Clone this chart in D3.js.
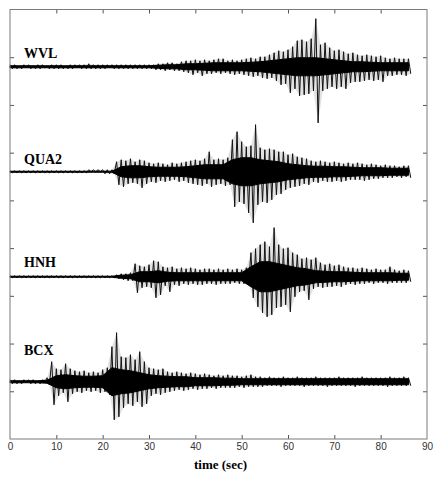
<!DOCTYPE html>
<html>
<head>
<meta charset="utf-8">
<script src="https://cdn.jsdelivr.net/npm/d3@7"></script>
<style>
body { margin: 0; background: #fff; }
</style>
</head>
<body>
<div id="chart"></div>
<script>
// stations, top to bottom, and where each trace sits on the y axis
var stations = ["WVL", "QUA2", "HNH", "BCX"];
var offsets = [7.8, 5.6, 3.4, 1.2];
var xTicks = [0, 10, 20, 30, 40, 50, 60, 70, 80, 90];
var yTicks = [1, 2, 3, 4, 5, 6, 7, 8];

// peak amplitude (counts) in each 1 s window, up and down, t = 0..86 s
var wvlHi = [2,2,1,2,2,1,2,2,1,2, 2,2,1,2,2,2,2,3,2,2, 2,2,2,2,2,2,2,2,2,2,
  2,2,3,3,4,4,3,5,6,6, 7,6,7,6,7,8,8,6,7,6, 7,8,9,8,10,10,12,14,16,15,
  17,20,26,27,25,28,48,22,24,19, 16,17,15,13,14,12,11,12,11,10, 11,9,8,9,8,8,8];
var wvlLo = [-2,-2,-2,-1,-2,-2,-2,-1,-2,-2, -2,-2,-2,-2,-1,-2,-2,-2,-2,-2, -2,-1,-2,-2,-2,-2,-2,-2,-2,-2,
  -2,-3,-3,-4,-3,-4,-4,-5,-6,-8, -6,-9,-7,-7,-6,-7,-6,-7,-8,-7, -8,-9,-10,-9,-11,-12,-11,-14,-18,-17,
  -26,-22,-29,-28,-27,-24,-56,-24,-22,-20, -22,-20,-22,-16,-15,-15,-14,-13,-14,-13, -15,-9,-9,-8,-8,-9,-7];

var quaHi = [1,1,1,1,1,1,1,1,1,1, 1,1,1,1,1,1,1,2,2,2, 2,2,2,10,12,11,13,10,12,11,
  9,8,9,8,7,9,8,9,10,11, 12,11,13,20,12,13,12,14,32,40, 30,25,26,47,24,22,23,22,20,20,
  17,18,15,14,13,11,10,11,10,9, 10,9,8,9,8,9,8,7,8,7, 6,7,6,6,5,6,6];
var quaLo = [-1,-1,-1,-1,-1,-1,-1,-1,-1,-1, -1,-1,-1,-1,-1,-1,-1,0,0,0, -2,-2,-2,-13,-15,-12,-11,-12,-16,-12,
  -10,-11,-9,-10,-9,-8,-10,-9,-11,-12, -13,-14,-12,-15,-13,-12,-14,-13,-35,-30, -32,-41,-51,-33,-30,-31,-28,-23,-22,-18,
  -16,-15,-14,-12,-13,-10,-11,-9,-10,-10, -9,-10,-9,-8,-8,-8,-9,-8,-7,-7, -6,-6,-6,-5,-6,-5,-6];

var hnhHi = [1,1,1,1,1,1,1,1,1,1, 1,1,1,1,1,1,1,1,1,1, 1,1,1,2,3,3,4,13,11,10,
  12,16,15,10,9,10,8,9,8,9, 8,7,8,8,7,8,7,8,7,8, 7,9,24,28,32,35,30,49,32,28,
  29,24,22,18,19,17,19,14,12,13, 11,12,10,9,9,8,9,8,7,8, 7,7,10,7,6,7,6];
var hnhLo = [-1,-1,-1,-1,-1,-1,-1,-1,-1,-1, -1,-1,-1,-1,-1,-1,-1,-1,-1,-1, -1,-1,-1,-2,-3,-4,-4,-16,-11,-10,
  -11,-21,-18,-9,-15,-8,-9,-7,-8,-7, -8,-8,-7,-7,-8,-7,-7,-7,-6,-7, -7,-8,-21,-30,-36,-40,-38,-31,-30,-28,
  -35,-20,-15,-14,-23,-12,-10,-11,-10,-10, -9,-10,-8,-7,-8,-7,-7,-6,-7,-6, -6,-7,-6,-6,-6,-6,-5];

var bcxHi = [2,2,1,2,2,2,1,2,4,20, 13,12,18,13,11,10,11,9,10,9, 12,14,35,49,25,24,27,22,30,20,
  14,13,12,13,10,9,10,9,8,9, 8,7,8,7,6,7,6,7,6,6, 5,6,7,5,5,4,5,4,4,5,
  4,4,5,4,4,4,5,4,4,4, 4,5,4,4,4,4,5,4,4,4, 4,4,5,4,4,5,4];
var bcxLo = [-2,-2,-2,-1,-2,-2,-2,-1,-3,-23, -14,-11,-20,-12,-10,-11,-9,-10,-9,-11, -10,-13,-38,-35,-26,-22,-24,-20,-25,-22,
  -14,-12,-13,-11,-10,-9,-8,-9,-8,-7, -8,-7,-7,-6,-7,-6,-6,-6,-6,-5, -6,-5,-5,-5,-5,-4,-4,-4,-5,-4,
  -4,-4,-4,-5,-4,-4,-4,-4,-5,-4, -4,-4,-4,-4,-5,-4,-4,-4,-4,-4, -4,-5,-4,-4,-4,-4,-4];

// half-width (counts) of the solid, dense part of each trace, every 2 s, t = 0..86 s
var wvlCore = [1,1,1,1,1,1,1,1,1,1, 1,1,1,1,1,1, 1.5,2,2,3,3,3.5,4,4,4,4, 4.5,5,6,7,8,9,9,9,8,7, 6,5,5,4.5,4,4,4,4];
var quaCore = [0.5,0.5,0.5,0.5,0.5,0.5,0.5,0.5,0.5,0.5, 0.5,0.5,5,6,6,5,4.5,4.5,4.5,5, 6,7,7,7,12,14,14,12,11,10, 8,7,6,5.5,5.5,5,5,4.5,4,4, 4,3.5,3.5,3.5];
var hnhCore = [0.5,0.5,0.5,0.5,0.5,0.5,0.5,0.5,0.5,0.5, 0.5,0.5,1.5,2,5,5,6,4.5,4,4, 4,4,4,4,4,4,10,15,15,13, 11,9,8,6,5.5,5,5,4.5,4,4, 4,4,3.5,3.5];
var bcxCore = [1,1,1,1,1.5,6,7,6,5.5,5.5, 6,14,12,11,9,7,6,5.5,5,5, 4,4,4,3.5,3.5,3,3,3,3,3, 3,3,3,3,3,3,3,3,3,3, 3,3,3,3];

var traceHi = [wvlHi, quaHi, hnhHi, bcxHi];
var traceLo = [wvlLo, quaLo, hnhLo, bcxLo];
var traceCore = [wvlCore, quaCore, hnhCore, bcxCore];
var gain = 0.021;   // counts -> axis units

var svgWidth = 439;
var svgHeight = 480;
var margin = {top: 9.5, right: 12, bottom: 41, left: 10};
var chartWidth = svgWidth - margin.left - margin.right;
var chartHeight = svgHeight - margin.top - margin.bottom;

var svg = d3.select("#chart")
            .append("svg")
            .attr("width", svgWidth)
            .attr("height", svgHeight);
var chartGroup = svg.append("g")
            .attr("transform", `translate(${margin.left}, ${margin.top})`);

var xScale = d3.scaleLinear().domain([0, 90]).range([0, chartWidth]);
var yScale = d3.scaleLinear().domain([0, 9]).range([chartHeight, 0]);

var envelope = d3.area()
             .x0(d => xScale(d.t))
             .x1(d => xScale(d.t + 0.5))
             .y0(d => yScale(d.off + d.hi * gain))
             .y1(d => yScale(d.off + d.lo * gain));
var core = d3.area()
             .x(d => xScale(d.t))
             .y0(d => yScale(d.off + d.c * gain))
             .y1(d => yScale(d.off - d.c * gain));
var line = d3.line().x(d => xScale(d[0])).y(d => yScale(d[1]));

stations.forEach(function(name, k) {
    var rows = traceHi[k].map((v, i) => ({t: i, hi: v, lo: traceLo[k][i], off: offsets[k]}));
    // faint band where the peaks reach
    chartGroup.append("path")
              .attr("d", envelope(rows))
              .attr("fill", "#e2e2e2");
    // peak-to-peak swings
    var pts = [];
    rows.forEach(function(r) {
        pts.push([r.t, r.off + r.hi * gain]);
        pts.push([r.t + 0.5, r.off + r.lo * gain]);
    });
    chartGroup.append("path")
              .attr("d", line(pts))
              .attr("fill", "none")
              .attr("stroke", "#111")
              .attr("stroke-width", 1);
    // solid middle of the trace
    var coreRows = traceCore[k].map((c, i) => ({t: Math.min(i * 2, 86.5), c: c, off: offsets[k]}));
    chartGroup.append("path")
              .attr("d", core(coreRows))
              .attr("fill", "#000")
              .attr("stroke", "#000")
              .attr("stroke-width", 1);
});

// station names
var labelLift = [9, 8, 10, 27];
stations.forEach(function(name, k) {
    chartGroup.append("text")
              .attr("x", 14)
              .attr("y", yScale(offsets[k]) - labelLift[k])
              .style("font-family", "'Liberation Serif', 'Times New Roman', serif")
              .style("font-weight", "bold")
              .style("font-size", "14px")
              .text(name);
});

// axes, ticks pointing inward
var xBottom = d3.axisBottom(xScale).tickValues(xTicks).tickSizeInner(-4).tickSizeOuter(0).tickPadding(4);
var xTop = d3.axisTop(xScale).tickValues(xTicks.slice(1, -1)).tickSizeInner(-4).tickSizeOuter(0).tickFormat("");
var yLeft = d3.axisLeft(yScale).tickValues(yTicks).tickSizeInner(-4).tickSizeOuter(0).tickFormat("");
var yRight = d3.axisRight(yScale).tickValues(yTicks).tickSizeInner(-4).tickSizeOuter(0).tickFormat("");

var gx = chartGroup.append("g").attr("transform", `translate(0, ${chartHeight})`).call(xBottom);
chartGroup.append("g").call(xTop);
chartGroup.append("g").call(yLeft);
chartGroup.append("g").attr("transform", `translate(${chartWidth}, 0)`).call(yRight);

chartGroup.selectAll(".domain").remove();
chartGroup.selectAll(".tick line").attr("stroke", "#555");
gx.selectAll("text")
  .style("font-family", "'Liberation Sans', Arial, sans-serif")
  .style("font-size", "10px")
  .attr("fill", "#333");
gx.selectAll(".tick").filter(d => d === 0 || d === 90).select("line").remove();

chartGroup.append("rect")
          .attr("width", chartWidth)
          .attr("height", chartHeight)
          .attr("fill", "none")
          .attr("stroke", "#7a7a7a")
          .attr("stroke-width", 1);

chartGroup.append("text")
          .attr("x", chartWidth / 2 + 2)
          .attr("y", chartHeight + 30)
          .style("text-anchor", "middle")
          .style("font-family", "'Liberation Serif', 'Times New Roman', serif")
          .style("font-weight", "bold")
          .style("font-size", "13px")
          .text("time (sec)");
</script>
</body>
</html>
